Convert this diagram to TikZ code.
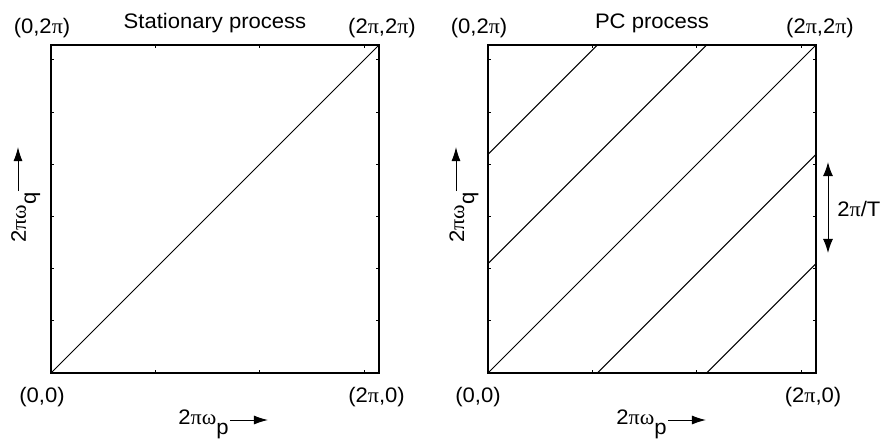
\documentclass[tikz,border=0pt]{standalone}
\usepackage{fontspec}
\setmainfont[FakeStretch=1.05]{Liberation Sans}
\newfontfamily\grk[FakeStretch=1.05]{Liberation Serif}
\usepackage{tikz}
\usetikzlibrary{arrows.meta,positioning,calc}
\newcommand{\gpi}{{\grk π}}
\newcommand{\gom}{{\grk ω}}
\newcommand{\lowsub}[1]{\raisebox{-5pt}{#1}}

\tikzset{
  frame/.style={line width=1pt},
  ticmark/.style={line width=0.4pt},
  freqline/.style={line width=0.5pt},
  lab/.style={font=\fontsize{10.5}{12}\selectfont, inner sep=0pt},
  axarrow/.style={line width=0.5pt, -{Latex[length=7pt,width=4.5pt]}},
  periodarrow/.style={line width=0.5pt, {Latex[length=7pt,width=5pt]}-{Latex[length=7pt,width=5pt]}}
}

\begin{document}
\begin{tikzpicture}[x=26.1pt,y=26.1pt]
    \useasboundingbox (-25.5pt,-34pt) rectangle (417.5pt,186.5pt);

    % Stationary process
    \begin{scope}
        \coordinate (st0) at (0,0);
        \coordinate (st1) at ({2*pi},{2*pi});
        \draw[frame] (st0) rectangle (st1);
        \foreach \t in {2,4,6} {
            \draw[ticmark] (\t,0) -- ++(0,1.5pt);
            \draw[ticmark] (\t,{2*pi}) -- ++(0,-1.5pt);
        }
        \foreach \t in {1,...,6} {
            \draw[ticmark] (0,\t) -- ++(1.5pt,0);
            \draw[ticmark] ({2*pi},\t) -- ++(-1.5pt,0);
        }
        \draw[freqline] (st0) -- (st1);
        \node[lab, anchor=base, yshift=8.25pt] (sttitle) at ({pi},{2*pi}) {Stationary process};
        \node[lab, anchor=base, xshift=-4.5pt, yshift=6pt] (sttl) at (0,{2*pi}) {(0,2\gpi)};
        \node[lab, anchor=base, xshift=1.5pt, yshift=6pt] (sttr) at ({2*pi},{2*pi}) {(2\gpi,2\gpi)};
        \node[lab, anchor=base, xshift=-4.5pt, yshift=-14.5pt] (stbl) at (st0) {(0,0)};
        \node[lab, anchor=base, xshift=-1.2pt, yshift=-14.5pt] (stbr) at ({2*pi},0) {(2\gpi,0)};
        \node[lab, anchor=base west] (stxlab) at ($(st0)+(63.5pt,-25.5pt)$) {2\gpi\gom\lowsub{p}};
        \draw[axarrow] (stxlab.base east) ++(0.5pt,2pt) -- ++(19pt,0);
        \node[lab, rotate=90, anchor=base west] (stylab) at ($(st0)+(-12.5pt,65pt)$) {2\gpi\gom\lowsub{q}};
        \draw[axarrow] (stylab.base east) ++(-4pt,0.5pt) -- ++(0,22pt);
    \end{scope}

    % PC process
    \begin{scope}[xshift=218.5pt]
        \coordinate (pc0) at (0,0);
        \coordinate (pc1) at ({2*pi},{2*pi});
        \draw[frame] (pc0) rectangle (pc1);
        \foreach \t in {2,4,6} {
            \draw[ticmark] (\t,0) -- ++(0,1.5pt);
            \draw[ticmark] (\t,{2*pi}) -- ++(0,-1.5pt);
        }
        \foreach \t in {1,...,6} {
            \draw[ticmark] (0,\t) -- ++(1.5pt,0);
            \draw[ticmark] ({2*pi},\t) -- ++(-1.5pt,0);
        }
        \draw[freqline] (pc0) -- (pc1);
        \foreach \k in {1,2} {
            \draw[freqline] (0,{\k*2*pi/3}) -- ({2*pi-\k*2*pi/3},{2*pi});
            \draw[freqline] ({\k*2*pi/3},0) -- ({2*pi},{2*pi-\k*2*pi/3});
        }
        \node[lab, anchor=base, yshift=8.25pt] (pctitle) at ({pi},{2*pi}) {PC process};
        \node[lab, anchor=base, xshift=-4.5pt, yshift=6pt] (pctl) at (0,{2*pi}) {(0,2\gpi)};
        \node[lab, anchor=base, xshift=2pt, yshift=6pt] (pctr) at ({2*pi},{2*pi}) {(2\gpi,2\gpi)};
        \node[lab, anchor=base, xshift=-5pt, yshift=-14.5pt] (pcbl) at (pc0) {(0,0)};
        \node[lab, anchor=base, xshift=-1.5pt, yshift=-14.5pt] (pcbr) at ({2*pi},0) {(2\gpi,0)};
        \node[lab, anchor=base west] (pcxlab) at ($(pc0)+(64pt,-25.5pt)$) {2\gpi\gom\lowsub{p}};
        \draw[axarrow] (pcxlab.base east) ++(0.5pt,2pt) -- ++(19pt,0);
        \node[lab, rotate=90, anchor=base west] (pcylab) at ($(pc0)+(-12pt,65pt)$) {2\gpi\gom\lowsub{q}};
        \draw[axarrow] (pcylab.base east) ++(-4pt,0.5pt) -- ++(0,22pt);

        % period between replicas
        \coordinate[xshift=6pt] (ptop) at ({2*pi},4.04);
        \coordinate[xshift=6pt] (pbot) at ({2*pi},2.30);
        \draw[periodarrow] (pbot) -- (ptop);
        \node[lab, anchor=base west, xshift=10.5pt] (plab) at ({2*pi},2.99) {2\gpi/T};
    \end{scope}
\end{tikzpicture}
\end{document}
